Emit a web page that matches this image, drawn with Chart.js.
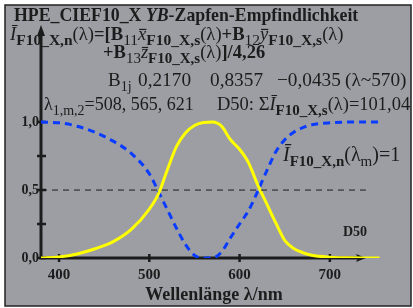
<!DOCTYPE html>
<html>
<head>
<meta charset="utf-8">
<script src="https://cdn.jsdelivr.net/npm/chart.js@4"></script>
<style>
  html, body { margin: 0; padding: 0; background: #fff; }
  #wrap { width: 413px; height: 308px; }
</style>
</head>
<body>
<div id="wrap"><canvas id="sensChart"></canvas></div>
<script>
// wavelengths in nm
const wavelengths = [380, 400, 420, 440, 460, 480, 500, 510, 520, 530, 540, 550, 560, 570,
  580, 590, 600, 610, 620, 630, 640, 650, 660, 670, 680, 700, 720, 755];
const yellowValues = [0, 0.008, 0.03, 0.068, 0.12, 0.21, 0.36, 0.47, 0.65, 0.82, 0.92, 0.975, 0.997, 1.0,
  0.97, 0.87, 0.80, 0.70, 0.54, 0.40, 0.26, 0.13, 0.07, 0.04, 0.02, 0.006, 0.002, 0];
const blueValues = [1.0, 0.995, 0.97, 0.925, 0.86, 0.77, 0.62, 0.49, 0.355, 0.22, 0.10, 0.02, 0, 0,
  0.045, 0.15, 0.25, 0.35, 0.49, 0.64, 0.78, 0.87, 0.925, 0.96, 0.98, 0.995, 1.0, 1.0];
const halfLine = [[380, 0.5], [740, 0.5]];
const xTicks = [400, 500, 600, 700];
const yTicks = [0, 0.5, 1.0];
const yTickLabels = ["0,0", "0,5", "1,0"];
const yMinorTicks = [0.25, 0.75];
const bCoefficients = ["0,2170", "0,8357", "−0,0435"];

const SERIF = '"Liberation Serif", "Times New Roman", serif';
const INK = "#1c1c1c";

function rich(ctx, x, y, parts, size, subSize) {
  let cx = x;
  parts.forEach((p) => {
    const sz = p.s ? subSize : size;
    ctx.font = `${p.i ? "italic " : ""}${p.b ? "bold " : ""}${sz}px ${SERIF}`;
    const dy = p.s ? Math.round(size * 0.25) : 0;
    ctx.fillText(p.t, cx, y + dy);
    const w = ctx.measureText(p.t).width;
    if (p.bar) {
      ctx.fillRect(cx + 1, y - size * 0.6, w - 1, 1.2);
    }
    cx += w;
  });
  return cx;
}

const decor = {
  id: "decor",
  beforeDraw(chart) {
    const ctx = chart.ctx;
    ctx.save();
    ctx.fillStyle = "#ffffff";
    ctx.fillRect(0, 0, chart.width, chart.height);
    ctx.fillStyle = "#9d9ea4";
    ctx.fillRect(5, 5, 406, 301);
    ctx.strokeStyle = "#222";
    ctx.lineWidth = 1.5;
    ctx.strokeRect(5, 5, 406, 301);
    ctx.restore();
  },
  beforeDatasetsDraw(chart) {
    const ctx = chart.ctx;
    const xs = chart.scales.x, ys = chart.scales.y;
    const x0 = xs.getPixelForValue(380);
    const y0 = ys.getPixelForValue(0);
    ctx.save();
    ctx.strokeStyle = INK;
    ctx.fillStyle = INK;
    ctx.lineWidth = 3;
    // axes
    ctx.beginPath();
    ctx.moveTo(x0, y0);
    ctx.lineTo(x0, 32);
    ctx.moveTo(x0 - 1.5, y0);
    ctx.lineTo(358, y0);
    ctx.stroke();
    // arrowheads
    ctx.beginPath();
    ctx.moveTo(x0, 25);
    ctx.lineTo(x0 - 4, 36);
    ctx.lineTo(x0 + 4, 36);
    ctx.closePath();
    ctx.fill();
    ctx.beginPath();
    ctx.moveTo(366, y0);
    ctx.lineTo(356, y0 - 4);
    ctx.lineTo(358, y0);
    ctx.lineTo(356, y0 + 4);
    ctx.closePath();
    ctx.fill();
    // ticks
    ctx.lineWidth = 2.5;
    ctx.beginPath();
    yTicks.concat(yMinorTicks).forEach((v) => {
      const py = ys.getPixelForValue(v);
      ctx.moveTo(x0 - 4, py);
      ctx.lineTo(x0 + 5, py);
    });
    xTicks.forEach((v) => {
      const px = xs.getPixelForValue(v);
      ctx.moveTo(px, y0 - 4);
      ctx.lineTo(px, y0 + 4);
    });
    ctx.stroke();
    // tick labels
    ctx.font = `bold 14px ${SERIF}`;
    ctx.textAlign = "right";
    ctx.textBaseline = "middle";
    yTicks.forEach((v, i) => {
      ctx.fillText(yTickLabels[i], x0 - 2, ys.getPixelForValue(v));
    });
    ctx.font = `bold 15px ${SERIF}`;
    ctx.textAlign = "center";
    ctx.textBaseline = "alphabetic";
    xTicks.forEach((v) => {
      ctx.fillText(String(v), xs.getPixelForValue(v), 279);
    });
    ctx.font = `bold 18px ${SERIF}`;
    ctx.fillText("Wellenlänge λ/nm", 214, 300);
    ctx.restore();
  },
  afterDraw(chart) {
    const ctx = chart.ctx;
    ctx.save();
    ctx.fillStyle = INK;
    ctx.textAlign = "left";
    ctx.textBaseline = "alphabetic";
    rich(ctx, 14, 21, [
      { t: "HPE_CIEF10_X ", b: 1 },
      { t: "YB", b: 1, i: 1 },
      { t: "-Zapfen-Empfindlichkeit", b: 1 },
    ], 17.8, 12);
    rich(ctx, 10, 40, [
      { t: "Ī", i: 1 }, { t: "F10_X,n", b: 1, s: 1 }, { t: "(λ)" }, { t: "=[B", b: 1 },
      { t: "11", s: 1 }, { t: "x", i: 1, bar: 1 }, { t: "F10_X,s", b: 1, s: 1 }, { t: "(λ)" },
      { t: "+B", b: 1 }, { t: "12", s: 1 }, { t: "y", i: 1, bar: 1 }, { t: "F10_X,s", b: 1, s: 1 },
      { t: "(λ)" },
    ], 18.6, 15.5);
    rich(ctx, 103, 58, [
      { t: "+B", b: 1 }, { t: "13", s: 1 }, { t: "z", i: 1, bar: 1 }, { t: "F10_X,s", b: 1, s: 1 },
      { t: "(λ)" }, { t: "]/4,26", b: 1 },
    ], 18.5, 15);
    // coefficient row
    rich(ctx, 108, 86, [{ t: "B" }, { t: "1j", s: 1 }], 19, 14);
    ctx.font = `19.3px ${SERIF}`;
    [138, 210, 277].forEach((x, i) => ctx.fillText(bCoefficients[i], x, 86));
    ctx.fillText("(λ~570)", 345, 86);
    rich(ctx, 44, 110, [
      { t: "λ" }, { t: "1,m,2", s: 1 }, { t: "=508, 565, 621" },
    ], 18, 14);
    rich(ctx, 217, 110, [
      { t: "D50: Σ" }, { t: "Ī", i: 1 }, { t: "F10_X,s", b: 1, s: 1 }, { t: "(λ)=101,04" },
    ], 18.5, 15);
    rich(ctx, 283, 161, [
      { t: "Ī", i: 1 }, { t: "F10_X,n", b: 1, s: 1 }, { t: "(λ" }, { t: "m", s: 1 }, { t: ")=1" },
    ], 20, 15);
    ctx.font = `bold 14px ${SERIF}`;
    ctx.fillText("D50", 343, 236);
    ctx.restore();
  },
};

const ctx = document.getElementById("sensChart").getContext("2d");

new Chart(ctx, {
  type: "line",
  data: {
    datasets: [
      {
        label: "half",
        data: halfLine.map(([x, y]) => ({ x, y })),
        borderColor: INK,
        borderWidth: 1,
        borderDash: [6, 5],
        pointRadius: 0,
        fill: false,
      },
      {
        label: "yellow",
        data: wavelengths.map((w, i) => ({ x: w, y: yellowValues[i] })),
        borderColor: "#ffff00",
        borderWidth: 3,
        pointRadius: 0,
        cubicInterpolationMode: "monotone",
        fill: false,
      },
      {
        label: "blue",
        data: wavelengths.map((w, i) => ({ x: w, y: blueValues[i] })),
        borderColor: "#0a3cff",
        borderWidth: 3,
        borderDash: [7, 5],
        pointRadius: 0,
        cubicInterpolationMode: "monotone",
        fill: false,
      },
    ],
  },
  options: {
    responsive: true,
    maintainAspectRatio: false,
    animation: false,
    layout: { padding: { left: 41, right: 29, top: 27, bottom: 50 } },
    plugins: {
      legend: { display: false },
      tooltip: { enabled: false },
    },
    scales: {
      x: { type: "linear", min: 380, max: 760, display: false },
      y: { type: "linear", min: 0, max: 1.7, display: false },
    },
  },
  plugins: [decor],
});
</script>
</body>
</html>
